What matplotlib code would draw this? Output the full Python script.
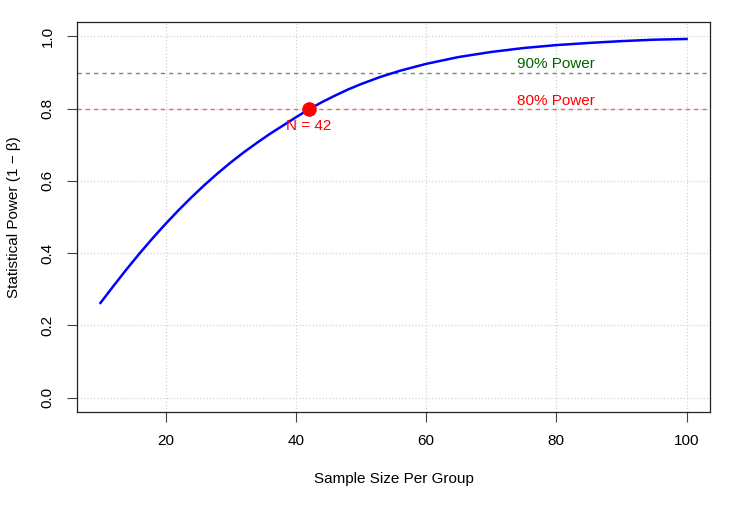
import numpy as np
import matplotlib.pyplot as plt

plt.rcParams['font.family'] = ['Liberation Sans', 'DejaVu Sans']

# power curve
sample_size = [10, 12, 14, 16, 18, 20, 22, 24, 26, 28, 30, 32, 34, 36, 38, 40,
               42, 44, 46, 48, 50, 53, 56, 60, 65, 70, 75, 80, 85, 90, 95, 100]
power = [0.262, 0.309, 0.355, 0.399, 0.441, 0.481, 0.519, 0.555, 0.589, 0.621,
         0.651, 0.679, 0.705, 0.730, 0.753, 0.776, 0.798, 0.818, 0.836, 0.853,
         0.868, 0.888, 0.905, 0.924, 0.943, 0.957, 0.968, 0.976, 0.982, 0.987,
         0.991, 0.993]
target_n = 42
target_power = 0.80
thresholds = [0.80, 0.90]
threshold_labels = ['80% Power', '90% Power']
line_colors = ['#e46a6a', '#5a9e5a']
text_colors = ['red', 'darkgreen']

fig = plt.figure(figsize=(7.5, 5.08), dpi=100)
ax = fig.add_axes([0.1027, 0.189, 0.844, 0.7677])

ax.plot(sample_size, power, color='blue', lw=1.8, zorder=3)

for t, lab, lc, tc in zip(thresholds, threshold_labels, line_colors, text_colors):
    ax.axhline(t, color=lc, ls=(0, (3, 3)), lw=1, zorder=2)
    ax.text(80, t + 0.003, lab, color=tc, ha='center', va='bottom', fontsize=11)

ax.plot(target_n, target_power, 'o', color='red', ms=9.5, zorder=4)
ax.text(target_n, target_power - 0.03, f'N = {target_n}', color='red',
        ha='center', va='top', fontsize=11)

ax.set_xlim(6.4, 103.6)
ax.set_ylim(-0.04, 1.04)
ax.set_xticks([20, 40, 60, 80, 100])
ax.set_yticks([0, 0.2, 0.4, 0.6, 0.8, 1.0])
ax.set_yticklabels(['0.0', '0.2', '0.4', '0.6', '0.8', '1.0'], rotation=90,
                   va='center')
ax.tick_params(labelsize=11, length=7, width=0.8, color='#444444', pad=9)
ax.grid(True, color='lightgray', ls=':', lw=0.9)
for s in ax.spines.values():
    s.set_linewidth(0.9)
    s.set_color('#222222')

ax.set_xlabel('Sample Size Per Group', fontsize=11, labelpad=17)
ax.set_ylabel('Statistical Power (1 \u2212 \u03b2)', fontsize=11, labelpad=14)

fig.savefig('out.png', dpi=100)
